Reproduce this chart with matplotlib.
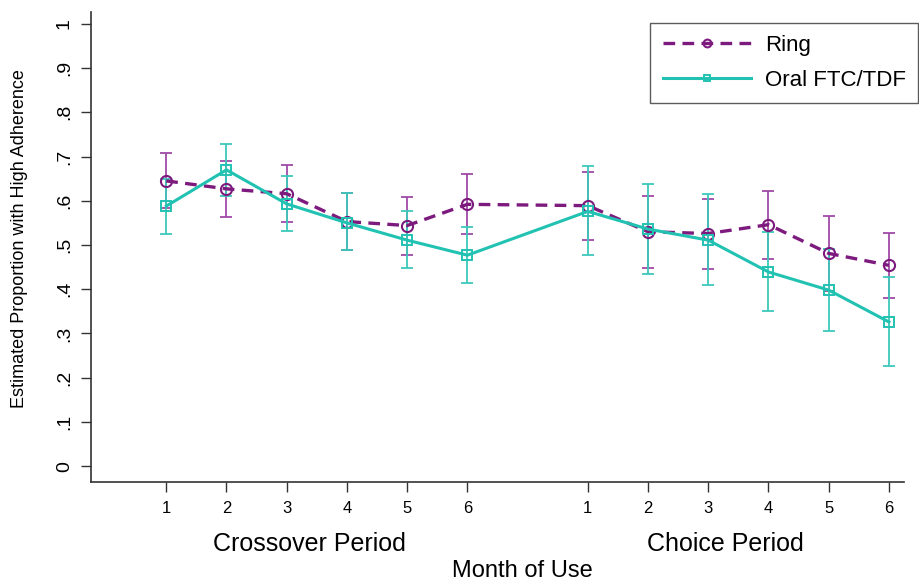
import numpy as np
import matplotlib
matplotlib.use('Agg')
from matplotlib import pyplot as plt

plt.rcParams['font.family'] = ['Liberation Sans', 'DejaVu Sans']

# month positions: crossover 1-6, choice 1-6 (gap of one slot between periods)
xpos = [1, 2, 3, 4, 5, 6, 8, 9, 10, 11, 12, 13]
xlabels = ['1', '2', '3', '4', '5', '6', '1', '2', '3', '4', '5', '6']

ring = [0.645, 0.627, 0.616, 0.553, 0.544, 0.592, 0.589, 0.530, 0.526, 0.546, 0.481, 0.454]
ring_lo = [0.583, 0.564, 0.552, 0.489, 0.478, 0.525, 0.511, 0.447, 0.446, 0.469, 0.396, 0.381]
ring_hi = [0.707, 0.691, 0.680, 0.618, 0.608, 0.660, 0.665, 0.611, 0.603, 0.623, 0.566, 0.528]

oral = [0.588, 0.670, 0.593, 0.550, 0.511, 0.477, 0.576, 0.536, 0.511, 0.439, 0.398, 0.326]
oral_lo = [0.525, 0.611, 0.531, 0.489, 0.449, 0.415, 0.477, 0.434, 0.410, 0.351, 0.306, 0.226]
oral_hi = [0.649, 0.729, 0.656, 0.618, 0.578, 0.541, 0.679, 0.638, 0.615, 0.530, 0.492, 0.427]

purple = '#7d1a7d'
purple_err = '#a04aa8'
teal = '#22c2b2'
teal_err = '#3cc8ba'

fig = plt.figure(figsize=(9.20, 5.82), dpi=100)
ax = fig.add_axes([0.0989, 0.1718, 0.8837, 0.8076])

r = np.array(ring)
o = np.array(oral)
ax.errorbar(xpos, r, yerr=[r - np.array(ring_lo), np.array(ring_hi) - r], fmt='none',
            ecolor=purple_err, elinewidth=1.3, capsize=4, capthick=1.3, zorder=2)
ax.errorbar(xpos, o, yerr=[o - np.array(oral_lo), np.array(oral_hi) - o], fmt='none',
            ecolor=teal_err, elinewidth=1.3, capsize=4, capthick=1.3, zorder=2)

dash = (0, (3.5, 2.2))
ax.plot(xpos, ring, color=purple, ls=dash, lw=2.4, marker='o', ms=8,
        mfc='none', mec=purple, mew=1.5, zorder=3, label='Ring')
ax.plot(xpos, oral, color=teal, ls='-', lw=2.2, marker='s', ms=7,
        mfc='none', mec=teal, mew=1.4, zorder=3, label='Oral FTC/TDF')

ax.set_xlim(-0.25, 13.25)
ax.set_ylim(-0.036, 1.027)
ax.set_xticks(xpos)
ax.set_xticklabels(xlabels, fontsize=12)
yt = np.arange(0, 1.01, 0.1)
ax.set_yticks(yt)
ax.set_yticklabels(['0', '.1', '.2', '.3', '.4', '.5', '.6', '.7', '.8', '.9', '1'],
                   fontsize=14, rotation=90, va='center')
ax.tick_params(axis='both', direction='out', length=7, width=1, color='#333333', pad=6)
ax.tick_params(axis='x', pad=7)
for s in ['top', 'right']:
    ax.spines[s].set_visible(False)
for s in ['left', 'bottom']:
    ax.spines[s].set_color('#333333')
    ax.spines[s].set_linewidth(1.2)

ax.text(3.37, -0.176, 'Crossover Period', fontsize=18, ha='center', va='center')
ax.text(10.28, -0.176, 'Choice Period', fontsize=18, ha='center', va='center')
fig.text(522 / 920, 1 - 571 / 582, 'Month of Use', fontsize=17, ha='center', va='center')
fig.text(20 / 920, 1 - 239 / 582, 'Estimated Proportion with High Adherence', fontsize=13,
         rotation=90, ha='center', va='center')

leg = ax.legend(loc='upper right', bbox_to_anchor=(918 / 920, 1 - 23 / 582),
                bbox_transform=fig.transFigure, fontsize=16, frameon=True,
                fancybox=False, edgecolor='#333333', handlelength=4.0, borderpad=0.55,
                labelspacing=0.6, markerscale=0.7, borderaxespad=0, handletextpad=0.6)
leg.get_frame().set_linewidth(1.0)

fig.savefig('out.png', dpi=100)
